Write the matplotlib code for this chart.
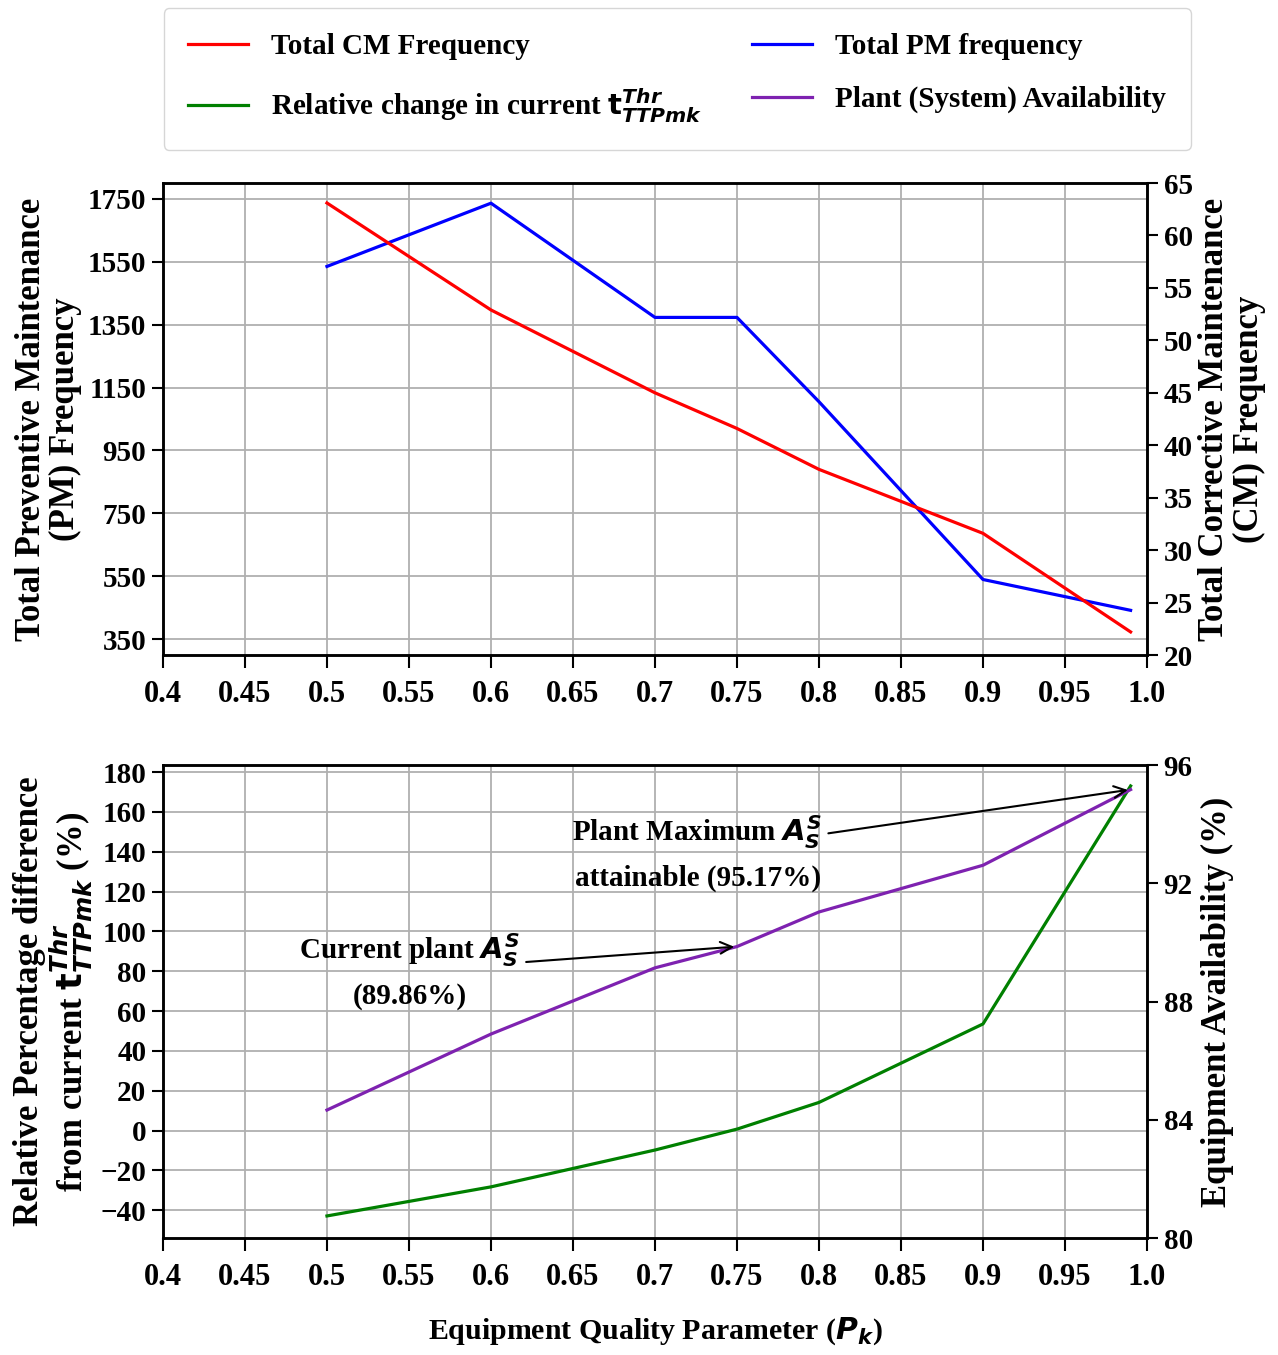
import matplotlib
matplotlib.use("Agg")
import matplotlib.pyplot as plt

# Equipment quality parameter values
pk = [0.5, 0.6, 0.7, 0.75, 0.8, 0.9, 0.99]

# Top panel series
pm_freq = [1535, 1736, 1373, 1373, 1105, 540, 442]       # left axis
cm_freq = [63.1, 52.9, 45.0, 41.6, 37.7, 31.6, 22.2]      # right axis

# Bottom panel series
rel_change = [-42.9, -28.3, -9.8, 0.7, 14.1, 53.5, 173.0]  # left axis (%)
availability = [84.33, 86.9, 89.14, 89.86, 91.03, 92.61, 95.17]  # right axis (%)

x_ticks = [0.4, 0.45, 0.5, 0.55, 0.6, 0.65, 0.7, 0.75, 0.8, 0.85, 0.9, 0.95, 1.0]
x_tick_labels = ["0.4", "0.45", "0.5", "0.55", "0.6", "0.65", "0.7", "0.75",
                 "0.8", "0.85", "0.9", "0.95", "1.0"]
pm_ticks = [350, 550, 750, 950, 1150, 1350, 1550, 1750]
cm_ticks = [20, 25, 30, 35, 40, 45, 50, 55, 60, 65]
rel_ticks = [-40, -20, 0, 20, 40, 60, 80, 100, 120, 140, 160, 180]
av_ticks = [80, 84, 88, 92, 96]

plt.rcParams["font.family"] = ["Liberation Serif", "DejaVu Serif"]
plt.rcParams["font.weight"] = "bold"
plt.rcParams["mathtext.fontset"] = "dejavusans"

YTICK_FS = 21
XTICK_FS = 22
LABEL_FS = 25
ANN_FS = 21
LW = 2.3

fig = plt.figure(figsize=(12.78, 13.55), dpi=100)
ax1 = fig.add_axes([0.1275, 0.5166, 0.77, 0.3483])
ax3 = fig.add_axes([0.1275, 0.0863, 0.77, 0.3491])
ax2 = ax1.twinx()
ax4 = ax3.twinx()


def style_axis(ax):
    for s in ax.spines.values():
        s.set_linewidth(1.8)
    ax.tick_params(axis="y", which="major", length=8, width=1.5,
                   labelsize=YTICK_FS, direction="out", pad=4)
    ax.tick_params(axis="x", which="major", length=9, width=1.5,
                   labelsize=XTICK_FS, direction="out", pad=9)
    for lab in ax.get_xticklabels() + ax.get_yticklabels():
        lab.set_fontweight("bold")


# ---- Top panel: PM / CM frequencies ----
l_cm, = ax2.plot(pk, cm_freq, color="red", lw=LW, label="Total CM Frequency")
l_pm, = ax1.plot(pk, pm_freq, color="blue", lw=LW, label="Total PM frequency")
ax1.set_xlim(0.4, 1.0)
ax1.set_ylim(300, 1800)
ax1.set_yticks(pm_ticks)
ax2.set_ylim(20, 65)
ax2.set_yticks(cm_ticks)
ax1.set_xticks(x_ticks)
ax1.set_xticklabels(x_tick_labels)
ax1.grid(True, color="#b0b0b0", lw=1.3)
ax1.set_ylabel("Total Preventive Maintenance\n(PM) Frequency",
               fontsize=LABEL_FS, fontweight="bold", labelpad=4,
               linespacing=1.05)
ax2.set_ylabel("Total Corrective Maintenance\n(CM) Frequency",
               fontsize=LABEL_FS, fontweight="bold", labelpad=4,
               linespacing=1.05)
for a in (ax1, ax2):
    style_axis(a)

# ---- Bottom panel: relative change / availability ----
l_rel, = ax3.plot(pk, rel_change, color="green", lw=LW,
                  label=r"Relative change in current $\mathbf{t}_{\boldsymbol{TTPmk}}^{\boldsymbol{Thr}}$")
l_av, = ax4.plot(pk, availability, color="#7e22b0", lw=LW,
                 label="Plant (System) Availability")
ax3.set_xlim(0.4, 1.0)
ax3.set_ylim(-54, 183.5)
ax3.set_yticks(rel_ticks)
ax4.set_ylim(80, 96)
ax4.set_yticks(av_ticks)
ax3.set_xticks(x_ticks)
ax3.set_xticklabels(x_tick_labels)
ax3.grid(True, color="#b0b0b0", lw=1.3)
ax3.set_ylabel("Relative Percentage difference\n"
               r"from current $\mathbf{t}_{\boldsymbol{TTPmk}}^{\boldsymbol{Thr}}$ (%)",
               fontsize=LABEL_FS, fontweight="bold", labelpad=4,
               linespacing=1.05)
ax4.set_ylabel("Equipment Availability (%)", fontsize=LABEL_FS,
               fontweight="bold", labelpad=6)
ax3.set_xlabel(r"Equipment Quality Parameter ($\boldsymbol{P_k}$)",
               fontsize=21.5, fontweight="bold", labelpad=17)
for a in (ax3, ax4):
    style_axis(a)

# Annotations on the availability curve
ax4.annotate("Plant Maximum " + r"$\boldsymbol{A_S^S}$" + "\nattainable (95.17%)",
             xy=(pk[-1], availability[-1]), xytext=(0.726, 93.05),
             ha="center", va="center", fontsize=ANN_FS, fontweight="bold",
             linespacing=1.65,
             arrowprops=dict(arrowstyle="->", color="black", lw=1.5))
ax4.annotate("Current plant " + r"$\boldsymbol{A_S^S}$" + "\n(89.86%)",
             xy=(0.75, availability[3]), xytext=(0.5506, 89.05),
             ha="center", va="center", fontsize=ANN_FS, fontweight="bold",
             linespacing=1.65,
             arrowprops=dict(arrowstyle="->", color="black", lw=1.5))

# Shared legend across the top of the figure
fig.legend(handles=[l_cm, l_rel, l_pm, l_av], loc="upper center",
           bbox_to_anchor=(0.530, 0.994), borderaxespad=0.0, ncol=2,
           prop={"weight": "bold", "size": 21},
           handlelength=2.05, handletextpad=0.8, columnspacing=1.7,
           labelspacing=0.9, borderpad=0.85, fancybox=True)

fig.savefig("out.png", dpi=100)
